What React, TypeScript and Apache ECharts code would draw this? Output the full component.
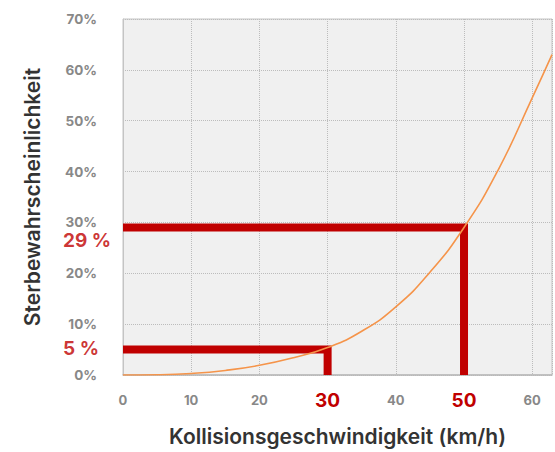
import React, { useEffect, useRef } from "react";
import * as echarts from "echarts";

// Collision speed (km/h) and probability of death (%)
const speeds = [0, 5, 10, 15, 20, 25, 30, 35, 40, 45, 50, 55, 60, 62.9];
const deathProb = [0, 0.05, 0.3, 0.9, 1.9, 3.4, 5.4, 8.6, 13.4, 20.2, 29, 40.3, 54.5, 63];

// Highlighted reference points
const markerSpeeds = [30, 50];
const markerProbs = [5, 29];
const markerLabels = ["5 %", "29 %"];

const yTicks = [0, 10, 20, 30, 40, 50, 60, 70];
const xTicks = [0, 10, 20, 30, 40, 50, 60];

const RED = "#c00000";
const FONT = "Inter";

export default function App() {
  const ref = useRef<HTMLDivElement>(null);
  useEffect(() => {
    const chart = echarts.init(ref.current!, null, { renderer: "svg" });
    const curve = speeds.map((s, i) => [s, deathProb[i]]);
    const markerSeries = markerSpeeds.map((s, i) => ({
      type: "line",
      data: [
        [0, markerProbs[i]],
        [s, markerProbs[i]],
        [s, 0],
      ],
      symbol: "none",
      lineStyle: { color: RED, width: 8, join: "miter", cap: "butt" },
      z: 3,
      silent: true,
    }));
    const labelSeries = {
      type: "scatter",
      symbolSize: 0,
      data: markerProbs.map((p, i) => ({
        value: [0, p],
        label: {
          show: true,
          formatter: markerLabels[i],
          position: [-60, i === 1 ? 13 : -1.5],
          align: "left",
          verticalAlign: "middle",
          color: RED,
          fontSize: 19,
          fontWeight: "bold",
          fontFamily: FONT,
        },
      })),
      z: 5,
      silent: true,
    };
    chart.setOption({
      animation: false,
      backgroundColor: "#ffffff",
      grid: {
        left: 123,
        right: -2,
        top: 19,
        bottom: 76,
        show: true,
        backgroundColor: "#f0f0f0",
        borderColor: "#c4c4c4",
        borderWidth: 1,
      },
      xAxis: {
        type: "value",
        min: 0,
        max: 62.9,
        interval: 10,
        name: "Kollisionsgeschwindigkeit (km/h)",
        nameLocation: "middle",
        nameGap: 51,
        nameTextStyle: { fontSize: 21, fontWeight: 600, color: "#333", fontFamily: FONT },
        axisLine: { show: true, lineStyle: { color: "#b8b8b8", width: 1.5 } },
        axisTick: { show: false },
        splitLine: { show: true, lineStyle: { type: "dotted", color: "#bcbcbc" } },
        axisLabel: {
          margin: 25,
          verticalAlign: "middle",
          formatter: (v: number) => {
            if (!xTicks.includes(v)) return "";
            if (markerSpeeds.includes(v)) return "{r|" + v + "}";
            return "{n|" + v + "}";
          },
          rich: {
            n: { fontSize: 13, fontWeight: "bold", color: "#888", fontFamily: FONT },
            r: { fontSize: 19, fontWeight: "bold", color: RED, fontFamily: FONT },
          },
        },
      },
      yAxis: {
        type: "value",
        min: 0,
        max: 70,
        interval: 10,
        name: "Sterbewahrscheinlichkeit",
        nameLocation: "middle",
        nameGap: 80,
        nameTextStyle: { fontSize: 21, fontWeight: 600, color: "#333", fontFamily: FONT },
        axisLine: { show: true, lineStyle: { color: "#c4c4c4" } },
        axisTick: { show: false },
        splitLine: { show: true, lineStyle: { type: "dotted", color: "#bcbcbc" } },
        axisLabel: {
          margin: 26,
          fontSize: 13.5,
          fontWeight: "bold",
          color: "#888",
          fontFamily: FONT,
          formatter: (v: number) => (yTicks.includes(v) ? v + "%" : ""),
        },
      },
      series: [
        ...markerSeries,
        {
          type: "line",
          data: curve,
          smooth: true,
          symbol: "none",
          lineStyle: { color: "#f5944a", width: 1.6 },
          z: 4,
          silent: true,
        },
        labelSeries,
      ],
    });
    return () => chart.dispose();
  }, []);
  return (
    <div
      ref={ref}
      style={{ position: "absolute", left: 0, top: 0, width: 555, height: 452 }}
    />
  );
}
